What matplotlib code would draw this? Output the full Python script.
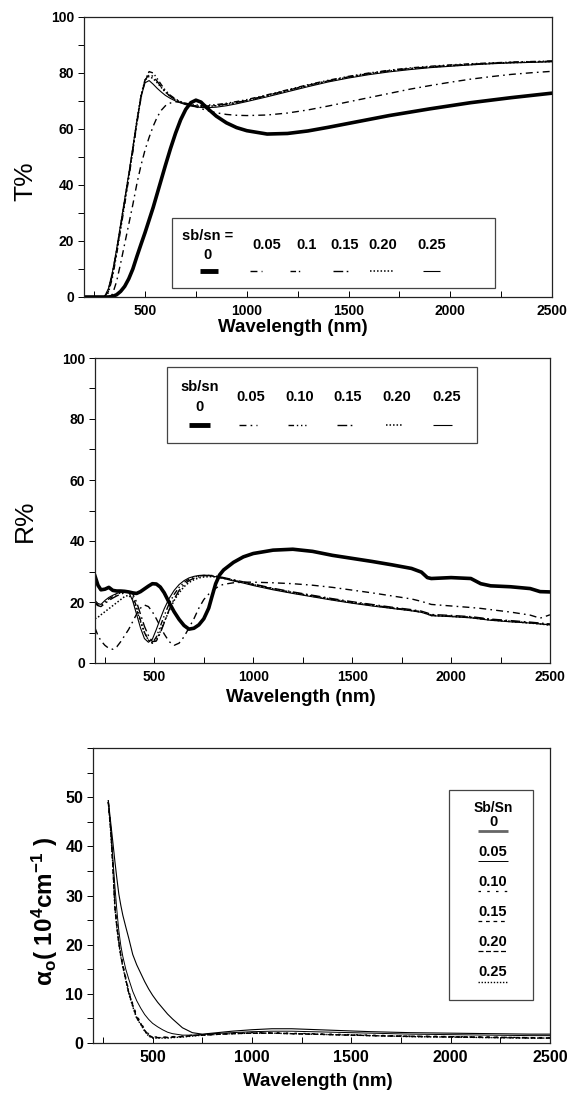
import matplotlib
matplotlib.use('Agg')
import matplotlib.pyplot as plt
from matplotlib.lines import Line2D
from matplotlib.patches import Rectangle
from matplotlib.ticker import MultipleLocator

plt.rcParams['font.family'] = ['Liberation Sans', 'DejaVu Sans']
plt.rcParams['mathtext.fontset'] = 'custom'
plt.rcParams['mathtext.rm'] = 'Liberation Sans'
plt.rcParams['mathtext.bf'] = 'Liberation Sans:bold'
plt.rcParams['mathtext.it'] = 'Liberation Sans:italic'
plt.rcParams['mathtext.default'] = 'regular'

# ---------------- data: transmittance ----------------
WL_T = [200, 300, 320, 340, 360, 380, 400, 420, 440, 460,
        480, 500, 520, 540, 560, 580, 600, 625, 650, 675,
        700, 725, 750, 775, 800, 850, 900, 950, 1000, 1100,
        1200, 1300, 1400, 1500, 1600, 1700, 1800, 1900, 2000, 2100,
        2200, 2300, 2400, 2500]
T_0 = [0, 0, 0, 0.2, 0.8, 2, 3.8, 6.5, 10, 14.5,
       18.8, 23, 27.5, 32, 37, 42, 47, 53, 58.5, 63.3,
       67, 69.4, 70.3, 69.6, 67.8, 64.6, 62.2, 60.5, 59.4, 58.2,
       58.4, 59.3, 60.6, 62, 63.4, 64.8, 66, 67.2, 68.3, 69.4,
       70.3, 71.2, 72, 72.8]
T_005 = [0, 0, 0, 1, 5.5, 12, 19, 26, 33, 40.5,
         47, 52.5, 57, 61, 64.3, 66.7, 68.3, 69.3, 69.7, 69.6,
         69.2, 68.6, 68, 67.3, 66.7, 65.8, 65.2, 64.9, 64.8, 65,
         65.7, 66.8, 68.2, 69.7, 71.2, 72.7, 74.2, 75.5, 76.7, 77.8,
         78.7, 79.5, 80.1, 80.6]
T_010 = [0, 0, 1.5, 7, 15, 24, 33, 42.5, 52, 62,
         71, 77.5, 80.5, 80, 78, 75.8, 73.8, 72, 70.7, 69.8,
         69.2, 68.8, 68.6, 68.5, 68.5, 68.7, 69.2, 69.8, 70.5, 72.2,
         74, 75.8, 77.4, 78.8, 80, 81, 81.8, 82.4, 82.9, 83.3,
         83.6, 83.9, 84.1, 84.3]
T_015 = [0, 0, 2, 8, 16, 25, 34, 43, 52.5, 62.5,
         71.5, 77.5, 79.5, 78.8, 77, 75, 73.2, 71.6, 70.4, 69.6,
         69, 68.6, 68.3, 68.2, 68.2, 68.4, 68.9, 69.5, 70.2, 72,
         73.8, 75.6, 77.2, 78.6, 79.8, 80.8, 81.6, 82.2, 82.7, 83.1,
         83.5, 83.8, 84, 84.2]
T_020 = [0, 0, 2.5, 8.5, 16.5, 25.5, 34.5, 43.5, 53, 63,
         72, 77.5, 78.8, 78, 76.5, 74.8, 73.2, 71.6, 70.4, 69.5,
         68.9, 68.5, 68.2, 68.1, 68.1, 68.3, 68.8, 69.4, 70.1, 71.9,
         73.7, 75.5, 77.1, 78.5, 79.7, 80.7, 81.5, 82.1, 82.6, 83,
         83.4, 83.7, 83.9, 84.1]
T_025 = [0, 0, 3, 9, 17, 26, 35, 44, 53.5, 63,
         71.5, 76.5, 77.3, 76, 74.5, 73.2, 72, 70.9, 70, 69.3,
         68.7, 68.2, 67.9, 67.7, 67.6, 67.8, 68.3, 69, 69.8, 71.5,
         73.3, 75.1, 76.8, 78.2, 79.4, 80.4, 81.2, 81.9, 82.4, 82.9,
         83.3, 83.6, 83.8, 84]

# ---------------- data: reflectance ----------------
WL_R = [200, 215, 230, 250, 270, 290, 310, 330, 350, 370,
        390, 410, 430, 450, 470, 490, 510, 530, 550, 575,
        600, 625, 650, 675, 700, 725, 750, 775, 790, 810,
        830, 850, 900, 950, 1000, 1100, 1200, 1300, 1400, 1500,
        1600, 1700, 1800, 1850, 1880, 1900, 2000, 2100, 2150, 2200,
        2300, 2400, 2450, 2500]
R_0 = [28.5, 25.5, 24, 24.2, 24.8, 23.8, 23.6, 23.6, 23.5, 23.3,
       23, 22.8, 23.4, 24.3, 25.2, 26, 25.9, 24.9, 23, 19.8,
       16.8, 14.3, 12.3, 11.1, 11.4, 12.5, 14.5, 18, 21.5, 26,
       28.9, 30.5, 33, 34.8, 35.9, 37, 37.3, 36.6, 35.3, 34.3,
       33.3, 32.2, 31, 29.8, 28, 27.7, 28, 27.7, 26, 25.3,
       25, 24.4, 23.4, 23.3]
R_005 = [11.5, 9, 7.3, 5.8, 4.8, 4.5, 5.3, 7, 9, 11,
         13.5, 16, 18, 19, 18.5, 16.8, 14.5, 12, 9.5, 7,
         5.8, 6.5, 8.6, 11.5, 14.5, 18, 20.8, 22.6, 23.5, 24.5,
         25.3, 25.8, 26.3, 26.5, 26.5, 26.3, 26, 25.5, 24.8, 23.9,
         23, 22, 21, 20.2, 19.6, 19.2, 18.7, 18.2, 17.9, 17.5,
         16.7, 15.7, 14.7, 15.8]
R_010 = [20, 19, 18.8, 20, 21, 21.8, 22.5, 23, 23.4, 23.5,
         22, 18.5, 14, 10, 7.5, 6.6, 8.5, 12, 15.5, 19.5,
         22.5, 24.8, 26.4, 27.5, 28.1, 28.5, 28.7, 28.7, 28.6, 28.4,
         28.1, 27.8, 27.1, 26.4, 25.7, 24.3, 23.1, 22, 20.9, 19.9,
         19, 18.1, 17.3, 16.8, 16.2, 15.7, 15.4, 15, 14.6, 14.2,
         13.7, 13.2, 12.9, 12.6]
R_015 = [19.5, 18.8, 18.5, 19.5, 20.5, 21.3, 22, 22.6, 23, 23.3,
         22.8, 20, 16, 12, 9, 7, 7.2, 9.8, 13.2, 17.5,
         21, 23.8, 25.7, 27, 27.8, 28.3, 28.6, 28.7, 28.7, 28.5,
         28.3, 28, 27.3, 26.6, 25.9, 24.5, 23.3, 22.2, 21.1, 20.1,
         19.2, 18.3, 17.5, 17, 16.4, 15.9, 15.6, 15.2, 14.8, 14.4,
         13.9, 13.4, 13.1, 12.8]
R_020 = [14.5, 15, 15.8, 16.8, 17.8, 18.8, 19.8, 20.8, 21.8, 22.2,
         21, 17.5, 13.5, 10, 7.5, 6.5, 7.5, 10.3, 13.5, 17.2,
         20.5, 23, 25, 26.4, 27.3, 27.9, 28.2, 28.3, 28.3, 28.2,
         28, 27.8, 27.1, 26.4, 25.7, 24.3, 23, 21.9, 20.8, 19.8,
         18.9, 18, 17.2, 16.7, 16.1, 15.6, 15.3, 14.9, 14.5, 14.1,
         13.6, 13.1, 12.8, 12.4]
R_025 = [20.5, 19.5, 19.2, 20.5, 21.5, 22.2, 22.8, 23.2, 23.5, 23.3,
         20.5, 16, 11.5, 8, 6.8, 7.8, 11, 14.5, 17.8, 21.2,
         23.8, 25.7, 27, 27.9, 28.4, 28.7, 28.8, 28.7, 28.5, 28.3,
         28, 27.7, 26.9, 26.2, 25.4, 24, 22.8, 21.7, 20.6, 19.6,
         18.7, 17.9, 17.1, 16.6, 16, 15.5, 15.2, 14.8, 14.4, 14,
         13.5, 13.1, 12.8, 12.5]

# ---------------- data: absorption coefficient ----------------
WL_A = [277, 290, 300, 310, 320, 330, 340, 350, 365, 380,
        400, 420, 440, 460, 480, 500, 525, 550, 575, 600,
        650, 700, 750, 800, 900, 1000, 1100, 1200, 1400, 1600,
        1800, 2000, 2200, 2400, 2500]
A_0 = [49.3, 44.5, 40.8, 37, 33.5, 30.3, 28, 26, 23.6, 21.3,
       18, 15.9, 14.2, 12.5, 11, 9.7, 8.3, 7.1, 5.9, 4.9,
       3.1, 2.1, 1.8, 2, 2.4, 2.7, 2.9, 2.9, 2.6, 2.3,
       2.1, 2, 1.9, 1.8, 1.8]
A_005 = [49.3, 43, 37.5, 32, 27, 22.8, 19.8, 17.6, 15, 13,
         10.5, 8.6, 7.1, 5.8, 4.8, 4, 3.3, 2.7, 2.2, 1.9,
         1.6, 1.6, 1.7, 1.9, 2.1, 2.3, 2.4, 2.4, 2.2, 2,
         1.8, 1.7, 1.6, 1.5, 1.5]
A_010 = [49, 43.5, 36.5, 28.5, 24.2, 20.8, 18.2, 16, 13.3, 10.6,
         8, 5.6, 4.2, 2.8, 1.8, 1.3, 1.2, 1.2, 1.2, 1.3,
         1.4, 1.6, 1.7, 1.8, 2, 2.1, 2.1, 2, 1.8, 1.6,
         1.4, 1.3, 1.2, 1.1, 1.1]
A_015 = [49, 43.2, 36.2, 28, 23.8, 20.5, 17.9, 15.8, 13, 10.3,
         7.7, 5.3, 4, 2.6, 1.6, 1.2, 1.1, 1.1, 1.2, 1.2,
         1.3, 1.5, 1.6, 1.7, 1.9, 2, 2, 1.9, 1.7, 1.5,
         1.4, 1.3, 1.2, 1.1, 1.0]
A_020 = [49, 43, 36, 27.7, 23.6, 20.3, 17.7, 15.6, 12.9, 10.2,
         7.6, 5.1, 3.9, 2.5, 1.5, 1.1, 1.1, 1.1, 1.1, 1.2,
         1.3, 1.5, 1.6, 1.7, 1.9, 2, 2, 1.9, 1.7, 1.5,
         1.3, 1.2, 1.1, 1.0, 1.0]
A_025 = [49, 42.5, 36, 27.5, 23.5, 20.2, 17.5, 15.5, 12.8, 10,
         7.4, 5, 3.8, 2.4, 1.4, 1, 1, 1, 1, 1.1,
         1.2, 1.4, 1.6, 1.7, 1.9, 2, 2, 1.9, 1.7, 1.5,
         1.3, 1.2, 1.1, 1, 1]

T_LABELS = ['0', '0.05', '0.1', '0.15', '0.20', '0.25']
R_LABELS = ['0', '0.05', '0.10', '0.15', '0.20', '0.25']
A_LABELS = ['0', '0.05', '0.10', '0.15', '0.20', '0.25']

# ---------------- styles ----------------
TR_STYLES = [dict(ls='-', lw=2.6),
             dict(ls=(0, (5, 3, 1.2, 3)), lw=1.0),
             dict(ls=(0, (4, 2, 1, 2, 1, 2)), lw=1.0),
             dict(ls=(0, (7, 2.5, 1.2, 2.5)), lw=1.0),
             dict(ls=(0, (1, 1.3)), lw=1.1),
             dict(ls='-', lw=0.8)]
A_STYLES = [dict(ls='-', lw=0.8),
            dict(ls='-', lw=0.7),
            dict(ls=(0, (2, 5)), lw=0.9),
            dict(ls=(0, (3, 3)), lw=0.9),
            dict(ls=(0, (4, 2)), lw=0.9),
            dict(ls=(0, (1, 1.2)), lw=1.0)]
A_LEG_STYLES = [dict(ls='-', lw=2.0, color='#666666')] + A_STYLES[1:]

W, H = 570, 1093
fig = plt.figure(figsize=(W / 100, H / 100), dpi=100)


def fx(px):
    return px / W


def fy(py):
    return 1 - py / H


def axes_px(l, t, r, b):
    return fig.add_axes([l / W, 1 - b / H, (r - l) / W, (b - t) / H])


def style_axes(ax, ymax, ymajor, yminor, labsize):
    ax.set_xlim(200, 2500)
    ax.set_ylim(0, ymax)
    ax.xaxis.set_major_locator(MultipleLocator(500))
    ax.xaxis.set_minor_locator(MultipleLocator(250))
    ax.yaxis.set_major_locator(MultipleLocator(ymajor))
    ax.yaxis.set_minor_locator(MultipleLocator(yminor))
    ax.tick_params(axis='x', which='both', direction='in', length=4, width=0.7,
                   labelsize=labsize, pad=5, top=False)
    ax.tick_params(axis='y', which='both', direction='out', length=4, width=0.7,
                   labelsize=labsize, pad=3, right=False)
    for s in ax.spines.values():
        s.set_linewidth(0.9)
        s.set_color('#222222')


def bold_ticks(ax):
    for lab in ax.get_xticklabels() + ax.get_yticklabels():
        lab.set_fontweight('bold')


def fig_text(x, y, s, size, weight='bold', **kw):
    fig.text(fx(x), fy(y), s, fontsize=size, fontweight=weight,
             ha='center', va='center', zorder=6, **kw)


def fig_line(x0, x1, y, st, color='black'):
    fig.add_artist(Line2D([fx(x0), fx(x1)], [fy(y), fy(y)], transform=fig.transFigure,
                          color=color, linestyle=st['ls'], linewidth=st['lw'],
                          solid_capstyle='butt', zorder=7))


def fig_box(l, t, r, b):
    fig.add_artist(Rectangle((fx(l), fy(b)), (r - l) / W, (b - t) / H,
                             transform=fig.transFigure, facecolor='white',
                             edgecolor='#444444', linewidth=0.9, zorder=5))

# ---------------- panel 1: T% ----------------
ax1 = axes_px(84, 17, 552, 297)
for y, st in zip([T_0, T_005, T_010, T_015, T_020, T_025], TR_STYLES):
    ax1.plot(WL_T, y, color='black', linestyle=st['ls'], linewidth=st['lw'])
style_axes(ax1, 100, 20, 10, 10)
ax1.set_xticks([500, 1000, 1500, 2000, 2500])
bold_ticks(ax1)
fig_text(25, 181, 'T%', 19, weight='normal', rotation=90)
fig_text(293, 328, 'Wavelength (nm)', 13.5)

fig_box(172, 218, 495, 288)
fig_text(208, 236, 'sb/sn =', 10.5)
t1_x = [208, 267, 307, 345, 383, 432]
t1_line = [(200, 218), (250, 262), (290, 302), (333, 350), (370, 393), (423, 440)]
for i, lab in enumerate(T_LABELS):
    fig_text(t1_x[i], 255 if i == 0 else 245, lab, 10.5)
    st = dict(TR_STYLES[i])
    if i == 0:
        st['lw'] = 3.5
    fig_line(t1_line[i][0], t1_line[i][1], 271, st)

# ---------------- panel 2: R% ----------------
ax2 = axes_px(95, 358, 550, 663)
for y, st in zip([R_0, R_005, R_010, R_015, R_020, R_025], TR_STYLES):
    ax2.plot(WL_R, y, color='black', linestyle=st['ls'], linewidth=st['lw'])
style_axes(ax2, 100, 20, 10, 10)
ax2.set_xticks([500, 1000, 1500, 2000, 2500])
bold_ticks(ax2)
fig_text(25, 521, 'R%', 19, weight='normal', rotation=90)
fig_text(301, 698, 'Wavelength (nm)', 13.5)

fig_box(167, 367, 477, 443)
fig_text(200, 387, 'sb/sn', 10.5)
r_x = [200, 251, 300, 348, 397, 447]
r_line = [(189, 210), (239, 257), (288, 306), (337, 355), (386, 402), (433, 452)]
for i, lab in enumerate(R_LABELS):
    fig_text(r_x[i], 407 if i == 0 else 397, lab, 10.5)
    st = dict(TR_STYLES[i])
    if i == 0:
        st['lw'] = 3.5
    fig_line(r_line[i][0], r_line[i][1], 425, st)

# ---------------- panel 3: alpha ----------------
ax3 = axes_px(93, 748, 550, 1043)
for y, st in zip([A_0, A_005, A_010, A_015, A_020, A_025], A_STYLES):
    ax3.plot(WL_A, y, color='black', linestyle=st['ls'], linewidth=st['lw'])
style_axes(ax3, 60, 10, 5, 11.5)
ax3.set_yticks([0, 10, 20, 30, 40, 50])
ax3.set_xticks([500, 1000, 1500, 2000, 2500])
bold_ticks(ax3)
fig_text(45, 911, r'$\alpha_{o}$( 10$^{\mathbf{4}}$cm$^{\mathbf{-1}}$ )', 17.5, rotation=90)
fig_text(318, 1082, 'Wavelength (nm)', 13.5)

fig_box(449, 790, 533, 1000)
fig_text(493, 808, 'Sb/Sn', 10)
a_ty = [822, 852, 882, 912, 942, 972]
a_ly = [831, 861, 891, 921, 951, 982]
for i, lab in enumerate(A_LABELS):
    fig_text(493, a_ty[i], lab, 10.5)
    st = A_LEG_STYLES[i]
    fig_line(478, 508, a_ly[i], st, color=st.get('color', 'black'))

fig.savefig('out.png', dpi=100)
